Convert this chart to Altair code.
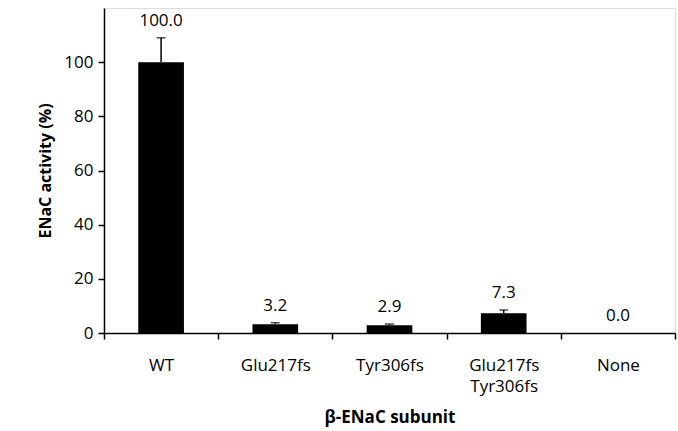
import altair as alt
import pandas as pd

categories = ["WT", "Glu217fs", "Tyr306fs", "Glu217fs|Tyr306fs", "None"]
values = [100.0, 3.2, 2.9, 7.3, 0.0]
errors = [9.0, 0.6, 0.4, 1.2, 0.0]
labels = ["100.0", "3.2", "2.9", "7.3", "0.0"]

df = pd.DataFrame({"cat": categories, "value": values, "err": errors, "label": labels})

FONT = "Open Sans"

x = alt.X("cat:N", sort=categories,
          scale=alt.Scale(paddingInner=0, paddingOuter=0),
          axis=alt.Axis(title="β-ENaC subunit", labelExpr="split(datum.label, '|')",
                        labelAngle=0, labelFontSize=17, labelFont=FONT, labelColor="black",
                        labelPadding=18, labelLineHeight=21,
                        tickBand="extent", tickSize=6, tickColor="black", tickWidth=1.5,
                        domainColor="black", domainWidth=1.5,
                        titleFont=FONT, titleFontSize=17, titleFontWeight="bold",
                        titleColor="black", titlePadding=15))
y_scale = alt.Scale(domain=[0, 120], nice=False)

base = alt.Chart(df).encode(x=x)

bars = base.mark_bar(color="black", width=alt.RelativeBandSize(0.4)).encode(
    y=alt.Y("value:Q", scale=y_scale,
            axis=alt.Axis(title="ENaC activity (%)", values=[0, 20, 40, 60, 80, 100],
                          grid=False, labelFontSize=17, labelFont=FONT, labelColor="black",
                          tickSize=6, tickColor="black", tickWidth=1.5,
                          domainColor="black", domainWidth=1.5, labelPadding=5,
                          titleFont=FONT, titleFontSize=16, titleFontWeight="bold",
                          titleColor="black", titlePadding=10))
)

err_df = base.transform_calculate(top="datum.value + datum.err")

rules = err_df.mark_rule(color="black", strokeWidth=1.5).encode(
    y=alt.Y("value:Q", scale=y_scale), y2="top:Q"
)
caps = err_df.transform_filter("datum.err > 0").mark_tick(
    color="black", size=9, thickness=1.5).encode(y=alt.Y("top:Q", scale=y_scale))

texts = err_df.mark_text(font=FONT, fontSize=17, color="black", dy=-17).encode(
    y=alt.Y("top:Q", scale=y_scale), text="label:N"
)

chart = alt.layer(bars, rules, caps, texts).properties(
    width=571, height=325,
    padding={"left": 104, "top": 8, "right": 3, "bottom": 98},
    autosize=alt.AutoSizeParams(type="none"),
).configure_view(stroke="black", strokeWidth=1.5).configure(background="white")

chart.save("out.html", embed_options={"renderer": "svg", "actions": False})
